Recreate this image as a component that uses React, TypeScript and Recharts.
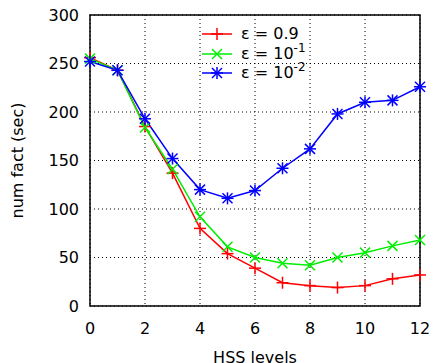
import {
  LineChart,
  Line,
  XAxis,
  YAxis,
  CartesianGrid,
  ReferenceArea,
} from "recharts";

const levels = [0, 1, 2, 3, 4, 5, 6, 7, 8, 9, 10, 11, 12];
const eps09 = [256, 243, 185, 137, 80, 54, 39, 24, 21, 19, 21, 28, 32];
const eps1e1 = [255, 243, 184, 141, 92, 61, 50, 44, 42, 50, 55, 62, 68];
const eps1e2 = [252, 243, 193, 152, 120, 111, 119, 142, 162, 198, 210, 212, 226];

const xTicks = [0, 2, 4, 6, 8, 10, 12];
const yTicks = [0, 50, 100, 150, 200, 250, 300];

const data = levels.map((lvl, i) => ({
  lvl,
  a: eps09[i],
  b: eps1e1[i],
  c: eps1e2[i],
}));

const FONT = "'DejaVu Sans', sans-serif";

type DotProps = { cx?: number; cy?: number; stroke?: string };

function Plus({ cx = 0, cy = 0, stroke }: DotProps) {
  const r = 6;
  return (
    <g stroke={stroke} strokeWidth={1.5}>
      <line x1={cx - r} y1={cy} x2={cx + r} y2={cy} />
      <line x1={cx} y1={cy - r} x2={cx} y2={cy + r} />
    </g>
  );
}

function Cross({ cx = 0, cy = 0, stroke }: DotProps) {
  const r = 5;
  return (
    <g stroke={stroke} strokeWidth={1.5}>
      <line x1={cx - r} y1={cy - r} x2={cx + r} y2={cy + r} />
      <line x1={cx - r} y1={cy + r} x2={cx + r} y2={cy - r} />
    </g>
  );
}

function Star(props: DotProps) {
  return (
    <g>
      <Plus {...props} />
      <Cross {...props} />
    </g>
  );
}

const legendRows = [
  { color: "#ff0000", Mark: Plus, text: <>ε = 0.9</> },
  { color: "#00ee00", Mark: Cross, text: <>ε = 10<sup>-1</sup></> },
  { color: "#0000ff", Mark: Star, text: <>ε = 10<sup>-2</sup></> },
];

function LegendBox() {
  return (
    <div style={{ fontFamily: FONT, fontSize: 16, lineHeight: "19.5px" }}>
      {legendRows.map((r, i) => (
        <div key={i} style={{ display: "flex", alignItems: "center", height: 19.5 }}>
          <svg width={38} height={19} style={{ marginRight: 5 }}>
            <line x1={4} y1={10} x2={34} y2={10} stroke={r.color} strokeWidth={1.5} />
            <r.Mark cx={19} cy={10} stroke={r.color} />
          </svg>
          <span style={{ whiteSpace: "nowrap" }}>{r.text}</span>
        </div>
      ))}
    </div>
  );
}

export default function App() {
  return (
    <div style={{ position: "absolute", left: 0, top: 0, background: "#fff" }}>
      <style>{`sup{font-size:12px;vertical-align:7px;line-height:0}`}</style>
      <LineChart
        width={434}
        height={363}
        data={data}
        margin={{ top: 15, right: 14, bottom: 0, left: 0 }}
      >
        <CartesianGrid stroke="#000" strokeDasharray="1 3" strokeWidth={1} />
        <XAxis
          dataKey="lvl"
          type="number"
          domain={[0, 12]}
          ticks={xTicks}
          tickLine={false}
          axisLine={false}
          tickMargin={11}
          height={57}
          tick={{ fill: "#000", fontSize: 16, fontFamily: FONT }}
          label={{
            value: "HSS levels",
            position: "insideBottom",
            offset: 0,
            fill: "#000",
            fontSize: 16,
            fontFamily: FONT,
          }}
        />
        <YAxis
          type="number"
          domain={[0, 300]}
          ticks={yTicks}
          tickLine={false}
          axisLine={false}
          tickMargin={5}
          width={90}
          tick={{ fill: "#000", fontSize: 16, fontFamily: FONT }}
          label={{
            value: "num fact (sec)",
            angle: -90,
            position: "insideLeft",
            offset: 17,
            style: { textAnchor: "middle" },
            fill: "#000",
            fontSize: 16,
            fontFamily: FONT,
          }}
        />
        <ReferenceArea
          x1={0}
          x2={12}
          y1={0}
          y2={300}
          fill="none"
          stroke="#000"
          strokeWidth={1.5}
          ifOverflow="visible"
        />
        <Line
          dataKey="a"
          stroke="#ff0000"
          strokeWidth={1.5}
          dot={<Plus />}
          isAnimationActive={false}
        />
        <Line
          dataKey="b"
          stroke="#00ee00"
          strokeWidth={1.5}
          dot={<Cross />}
          isAnimationActive={false}
        />
        <Line
          dataKey="c"
          stroke="#0000ff"
          strokeWidth={1.5}
          dot={<Star />}
          isAnimationActive={false}
        />
      </LineChart>
      <div style={{ position: "absolute", left: 198, top: 24 }}>
        <LegendBox />
      </div>
    </div>
  );
}
